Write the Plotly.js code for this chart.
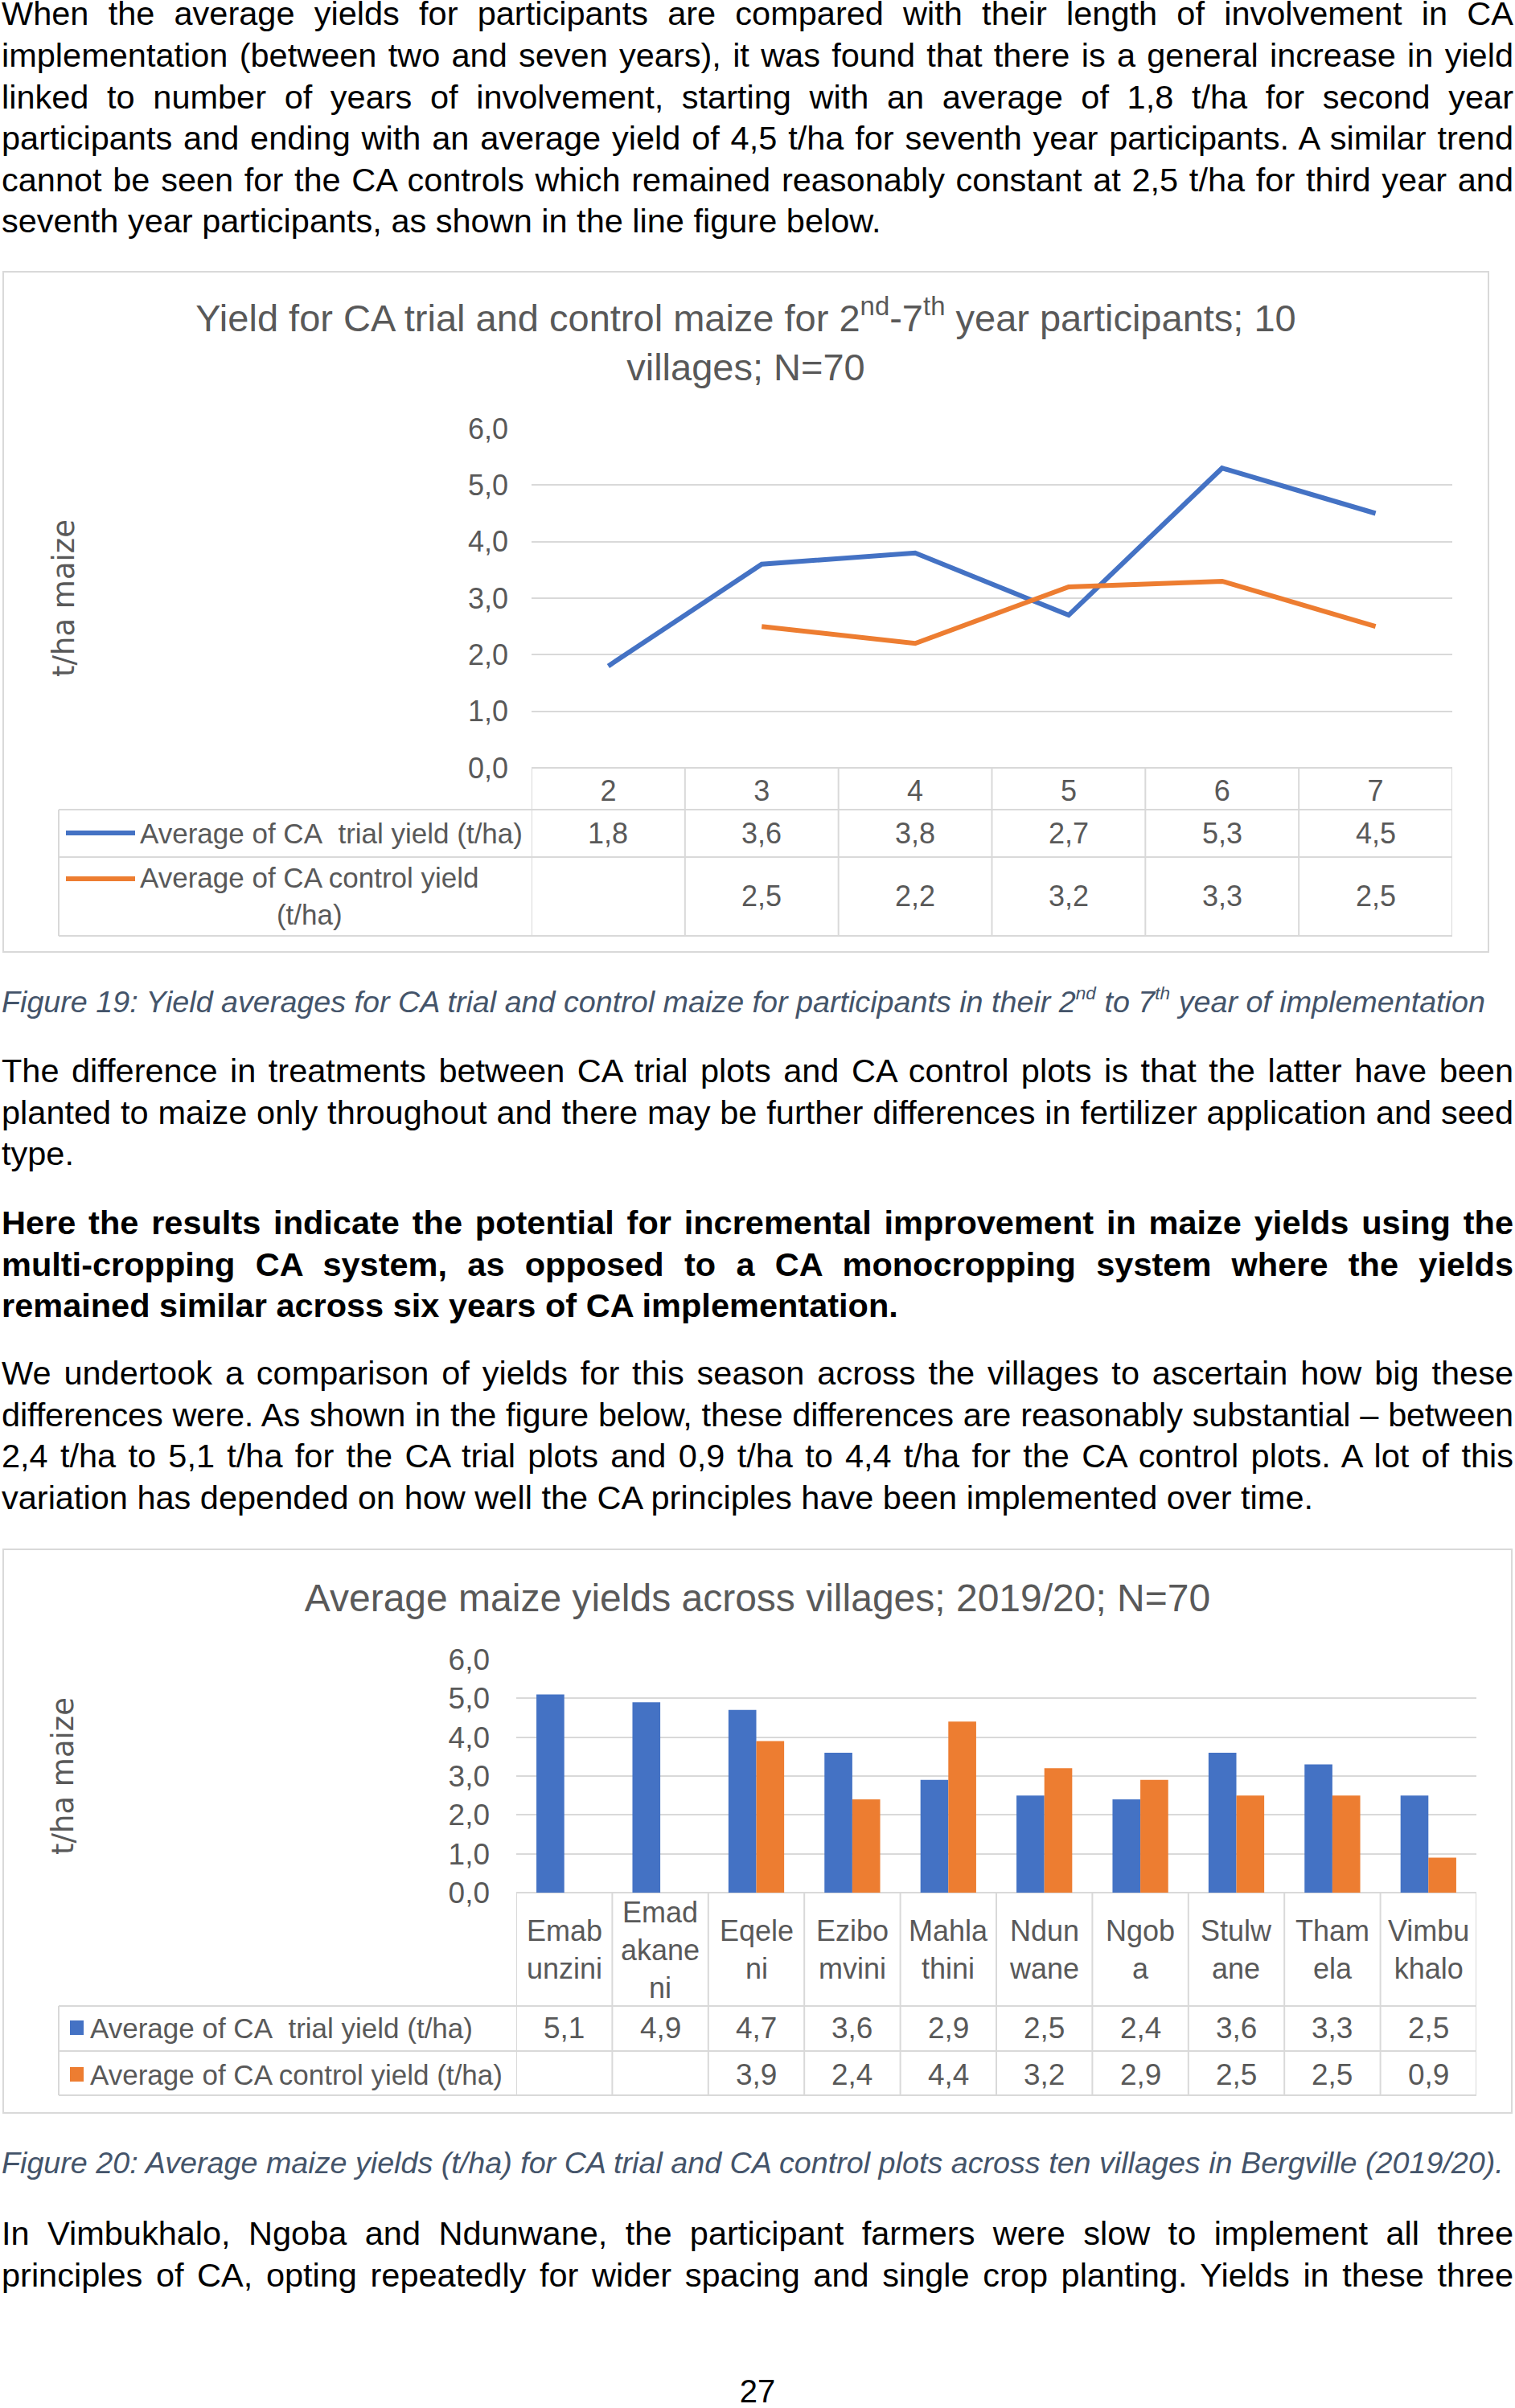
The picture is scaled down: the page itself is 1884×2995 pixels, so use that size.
<!DOCTYPE html>
<html>
<head>
<meta charset="utf-8">
<script src="https://cdn.plot.ly/plotly-3.0.1.min.js"></script>
<style>
html,body{margin:0;padding:0;background:#fff;}
#page{position:relative;width:1884px;height:2995px;overflow:hidden;font-family:"Liberation Sans",Arial,sans-serif;color:#000;background:#fff;}
.p{position:absolute;left:2px;width:1880px;font-size:41.5px;line-height:51.6px;}
.p div{white-space:nowrap;text-align:justify;text-align-last:justify;}
.p div.last{text-align:left;text-align-last:left;}
.b{font-weight:bold;}
.cap{position:absolute;left:2px;font-size:37.7px;line-height:42px;font-style:italic;color:#44546A;white-space:nowrap;}
sup{font-size:60%;line-height:0;vertical-align:0.7em;}
.frame{position:absolute;border:2px solid #d9d9d9;box-sizing:border-box;}
.chart{position:absolute;}
.pnum{position:absolute;left:0;width:1884px;text-align:center;font-size:40px;line-height:52px;}
</style>
</head>
<body>
<div id="page">
  <div class="p" style="top:-8.6px;">
    <div>When the average yields for participants are compared with their length of involvement in CA</div>
    <div>implementation (between two and seven years), it was found that there is a general increase in yield</div>
    <div>linked to number of years of involvement, starting with an average of 1,8 t/ha for second year</div>
    <div>participants and ending with an average yield of 4,5 t/ha for seventh year participants. A similar trend</div>
    <div>cannot be seen for the CA controls which remained reasonably constant at 2,5 t/ha for third year and</div>
    <div class="last">seventh year participants, as shown in the line figure below.</div>
  </div>

  <div class="frame" style="left:3px;top:337px;width:1849px;height:848px;"></div>
  <div id="chart1" class="chart" style="left:3px;top:337px;width:1849px;height:848px;"></div>

  <div class="cap" style="top:1225px;">Figure 19: Yield averages for CA trial and control maize for participants in their 2<sup>nd</sup> to 7<sup>th</sup> year of implementation</div>

  <div class="p" style="top:1306px;">
    <div>The difference in treatments between CA trial plots and CA control plots is that the latter have been</div>
    <div>planted to maize only throughout and there may be further differences in fertilizer application and seed</div>
    <div class="last">type.</div>
  </div>

  <div class="p b" style="top:1495px;">
    <div>Here the results indicate the potential for incremental improvement in maize yields using the</div>
    <div>multi-cropping CA system, as opposed to a CA monocropping system where the yields</div>
    <div class="last">remained similar across six years of CA implementation.</div>
  </div>

  <div class="p" style="top:1682px;">
    <div>We undertook a comparison of yields for this season across the villages to ascertain how big these</div>
    <div style="word-spacing:-4px;letter-spacing:-0.15px;">differences were. As shown in the figure below, these differences are reasonably substantial – between</div>
    <div>2,4 t/ha to 5,1 t/ha for the CA trial plots and 0,9 t/ha to 4,4 t/ha for the CA control plots. A lot of this</div>
    <div class="last">variation has depended on how well the CA principles have been implemented over time.</div>
  </div>

  <div class="frame" style="left:3px;top:1926px;width:1878px;height:703px;"></div>
  <div id="chart2" class="chart" style="left:3px;top:1926px;width:1878px;height:703px;"></div>

  <div class="cap" style="top:2669px;">Figure 20: Average maize yields (t/ha) for CA trial and CA control plots across ten villages in Bergville (2019/20).</div>

  <div class="p" style="top:2752px;">
    <div>In Vimbukhalo, Ngoba and Ndunwane, the participant farmers were slow to implement all three</div>
    <div>principles of CA, opting repeatedly for wider spacing and single crop planting. Yields in these three</div>
  </div>

  <div class="pnum" style="top:2948px;">27</div>
</div>

<script>
// ---------- DATA ----------
const years = ['2', '3', '4', '5', '6', '7'];
const trialByYear = [1.8, 3.6, 3.8, 2.7, 5.3, 4.5];
const controlByYear = [null, 2.5, 2.2, 3.2, 3.3, 2.5];

const villages = ['Emabunzini', 'Emadakaneni', 'Eqeleni', 'Ezibomvini', 'Mahlathini',
                  'Ndunwane', 'Ngoba', 'Stulwane', 'Thamela', 'Vimbukhalo'];
const villageLabels = ['Emab<br>unzini', 'Emad<br>akane<br>ni', 'Eqele<br>ni', 'Ezibo<br>mvini',
                       'Mahla<br>thini', 'Ndun<br>wane', 'Ngob<br>a', 'Stulw<br>ane', 'Tham<br>ela', 'Vimbu<br>khalo'];
const trialByVillage = [5.1, 4.9, 4.7, 3.6, 2.9, 2.5, 2.4, 3.6, 3.3, 2.5];
const controlByVillage = [null, null, 3.9, 2.4, 4.4, 3.2, 2.9, 2.5, 2.5, 0.9];

const yTickVals = [0, 1, 2, 3, 4, 5, 6];
const yTickLabels = ['0,0', '1,0', '2,0', '3,0', '4,0', '5,0', '6,0'];

const seriesNames = ['Average of CA\u00a0 trial yield (t/ha)', 'Average of CA control yield (t/ha)'];

// ---------- STYLE ----------
const BLUE = '#4472C4', ORANGE = '#ED7D31', GREY = '#595959', GRID = '#D9D9D9';
const FONT = 'Liberation Sans, Arial, sans-serif';
const fmt = v => v.toFixed(1).replace('.', ',');

function hline(x0, x1, y, xref) {
  return {type: 'line', xref: xref || 'paper', yref: 'paper', x0: x0, x1: x1, y0: y, y1: y,
          line: {color: GRID, width: 2}};
}
function vline(x, y0, y1, xref) {
  return {type: 'line', xref: xref || 'paper', yref: 'paper', x0: x, x1: x, y0: y0, y1: y1,
          line: {color: GRID, width: 2}};
}

// ---------- CHART 1 ----------
(function () {
  const L = 3, T = 337, W = 1849, H = 848;
  const ml = 658, mr = 46, mt = 196, mb = 230;
  const pw = W - ml - mr, ph = H - mt - mb;
  const X0 = L + ml, Y0 = T + H - mb;
  const px = x => (x - X0) / pw;
  const py = y => (Y0 - y) / ph;

  const rowTop1 = 1007, rowTop2 = 1066, rowBottom = 1164;
  const row1C = 1036, row2C = 1114, row2Line1 = 1093;
  const legLeft = 73;

  const traces = [
    {x: years, y: trialByYear, type: 'scatter', mode: 'lines', name: seriesNames[0],
     line: {color: BLUE, width: 6}, connectgaps: false},
    {x: years, y: controlByYear, type: 'scatter', mode: 'lines', name: seriesNames[1],
     line: {color: ORANGE, width: 6}, connectgaps: false}
  ];

  const shapes = [];
  [rowTop1, rowTop2, rowBottom].forEach(y => shapes.push(hline(px(legLeft), 1, py(y))));
  shapes.push(vline(px(legLeft), py(rowTop1), py(rowBottom)));
  for (let i = 0; i <= years.length; i++) shapes.push(vline(i - 0.5, 0, py(rowBottom), 'x'));
  shapes.push({type: 'line', xref: 'paper', yref: 'paper', x0: px(82), x1: px(168), y0: py(row1C), y1: py(row1C),
               line: {color: BLUE, width: 6}});
  shapes.push({type: 'line', xref: 'paper', yref: 'paper', x0: px(82), x1: px(168), y0: py(row2Line1), y1: py(row2Line1),
               line: {color: ORANGE, width: 6}});

  const ann = [];
  ann.push({xref: 'paper', yref: 'paper', x: px(172), y: py(row1C), xanchor: 'left', yanchor: 'middle',
            text: seriesNames[0], showarrow: false, font: {size: 35, color: GREY}});
  ann.push({xref: 'paper', yref: 'paper', x: px(172), y: py(row2C), xanchor: 'left', yanchor: 'middle', align: 'center',
            text: 'Average of CA control yield<br>(t/ha)', showarrow: false, font: {size: 35, color: GREY}});
  years.forEach((yr, i) => {
    if (trialByYear[i] !== null)
      ann.push({xref: 'x', yref: 'paper', x: i, y: py(row1C), yanchor: 'middle', text: fmt(trialByYear[i]),
                showarrow: false, font: {size: 36, color: GREY}});
    if (controlByYear[i] !== null)
      ann.push({xref: 'x', yref: 'paper', x: i, y: py(row2C), yanchor: 'middle', text: fmt(controlByYear[i]),
                showarrow: false, font: {size: 36, color: GREY}});
  });

  const layout = {
    width: W, height: H,
    margin: {l: ml, r: mr, t: mt, b: mb, pad: 0},
    paper_bgcolor: 'rgba(0,0,0,0)', plot_bgcolor: 'rgba(0,0,0,0)',
    font: {family: FONT, color: GREY},
    showlegend: false,
    title: {text: 'Yield for CA trial and control maize for 2<sup>nd</sup>-7<sup>th</sup> year participants; 10<br>villages; N=70',
            font: {size: 47, color: GREY}, x: 0.5, xanchor: 'center', xref: 'container',
            y: 1 - 75 / H, yanchor: 'middle', yref: 'container'},
    xaxis: {type: 'category', range: [-0.5, years.length - 0.5], showgrid: false, zeroline: false,
            showline: false, ticks: '', tickfont: {size: 36, color: GREY}, ticklabelstandoff: 4, automargin: false},
    yaxis: {range: [0, 6], tickvals: yTickVals, ticktext: yTickLabels, showgrid: true, gridcolor: GRID, gridwidth: 2,
            zeroline: true, zerolinecolor: GRID, zerolinewidth: 2, showline: false, ticks: '',
            tickfont: {size: 36, color: GREY}, ticklabelstandoff: 28, automargin: false,
            title: {text: 't/ha maize', font: {family: 'DejaVu Sans, sans-serif', size: 37, color: GREY}, standoff: 478}},
    shapes: shapes,
    annotations: ann
  };
  Plotly.newPlot('chart1', traces, layout, {staticPlot: true, displayModeBar: false});
})();

// ---------- CHART 2 ----------
(function () {
  const L = 3, T = 1926, W = 1878, H = 703;
  const ml = 639, mr = 45, mt = 138, mb = 275;
  const pw = W - ml - mr, ph = H - mt - mb;
  const X0 = L + ml, Y0 = T + H - mb;
  const px = x => (x - X0) / pw;
  const py = y => (Y0 - y) / ph;

  const headC = 2425, rowTop1 = 2495, rowTop2 = 2551, rowBottom = 2606;
  const row1C = 2522, row2C = 2580;
  const legLeft = 73;

  const traces = [
    {x: villages, y: trialByVillage, type: 'bar', name: seriesNames[0], marker: {color: BLUE, line: {width: 0}}},
    {x: villages, y: controlByVillage, type: 'bar', name: seriesNames[1], marker: {color: ORANGE, line: {width: 0}}}
  ];

  const shapes = [];
  [rowTop1, rowTop2, rowBottom].forEach(y => shapes.push(hline(px(legLeft), 1, py(y))));
  shapes.push(vline(px(legLeft), py(rowTop1), py(rowBottom)));
  for (let i = 0; i <= villages.length; i++) shapes.push(vline(i - 0.5, 0, py(rowBottom), 'x'));
  shapes.push({type: 'rect', xref: 'paper', yref: 'paper', x0: px(87), x1: px(104), y0: py(row1C - 9), y1: py(row1C + 9),
               fillcolor: BLUE, line: {width: 0}});
  shapes.push({type: 'rect', xref: 'paper', yref: 'paper', x0: px(87), x1: px(104), y0: py(row2C - 9), y1: py(row2C + 9),
               fillcolor: ORANGE, line: {width: 0}});

  const ann = [];
  ann.push({xref: 'paper', yref: 'paper', x: px(110), y: py(row1C), xanchor: 'left', yanchor: 'middle',
            text: seriesNames[0], showarrow: false, font: {size: 35, color: GREY}});
  ann.push({xref: 'paper', yref: 'paper', x: px(110), y: py(row2C), xanchor: 'left', yanchor: 'middle',
            text: seriesNames[1], showarrow: false, font: {size: 35, color: GREY}});
  villages.forEach((v, i) => {
    ann.push({xref: 'x', yref: 'paper', x: i, y: py(headC), yanchor: 'middle', text: villageLabels[i],
              showarrow: false, font: {size: 36, color: GREY}});
    if (trialByVillage[i] !== null)
      ann.push({xref: 'x', yref: 'paper', x: i, y: py(row1C), yanchor: 'middle', text: fmt(trialByVillage[i]),
                showarrow: false, font: {size: 37, color: GREY}});
    if (controlByVillage[i] !== null)
      ann.push({xref: 'x', yref: 'paper', x: i, y: py(row2C), yanchor: 'middle', text: fmt(controlByVillage[i]),
                showarrow: false, font: {size: 37, color: GREY}});
  });

  const layout = {
    width: W, height: H,
    margin: {l: ml, r: mr, t: mt, b: mb, pad: 0},
    paper_bgcolor: 'rgba(0,0,0,0)', plot_bgcolor: 'rgba(0,0,0,0)',
    font: {family: FONT, color: GREY},
    showlegend: false,
    barmode: 'group', bargap: 0.42, bargroupgap: 0,
    title: {text: 'Average maize yields across villages; 2019/20; N=70',
            font: {size: 48, color: GREY}, x: 0.5, xanchor: 'center', xref: 'container',
            y: 1 - 61 / H, yanchor: 'middle', yref: 'container'},
    xaxis: {type: 'category', range: [-0.5, villages.length - 0.5], showgrid: false, zeroline: false,
            showline: false, ticks: '', showticklabels: false, automargin: false},
    yaxis: {range: [0, 6], tickvals: yTickVals, ticktext: yTickLabels, showgrid: true, gridcolor: GRID, gridwidth: 2,
            zeroline: true, zerolinecolor: GRID, zerolinewidth: 2, showline: false, ticks: '',
            tickfont: {size: 37, color: GREY}, ticklabelstandoff: 32, automargin: false,
            title: {text: 't/ha maize', font: {family: 'DejaVu Sans, sans-serif', size: 37, color: GREY}, standoff: 454}},
    shapes: shapes,
    annotations: ann
  };
  Plotly.newPlot('chart2', traces, layout, {staticPlot: true, displayModeBar: false});
})();
</script>
</body>
</html>
